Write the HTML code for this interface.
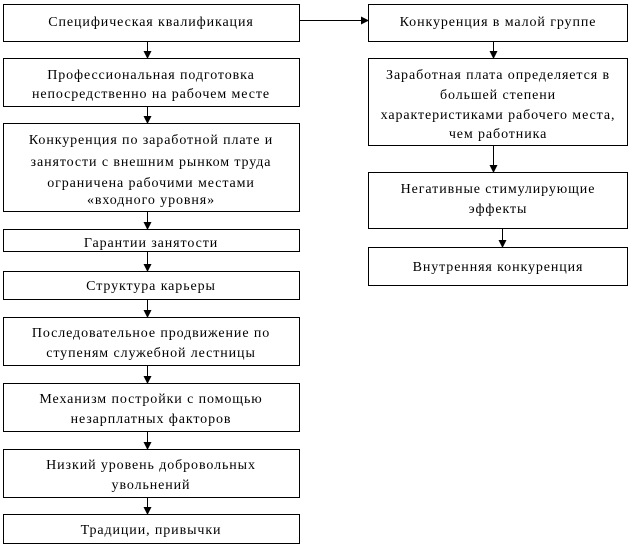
<!DOCTYPE html>
<html><head><meta charset="utf-8"><style>
html,body{margin:0;padding:0;background:#fff;}
svg{display:block;}
text{font-family:"Liberation Serif",serif;font-size:14px;letter-spacing:0.9px;fill:#000;text-anchor:middle;}
rect{fill:#fff;stroke:#000;stroke-width:1;}
line{stroke:#000;stroke-width:1;}
</style></head><body>
<svg width="630" height="547" xmlns="http://www.w3.org/2000/svg">
<defs><marker id="a" markerWidth="8" markerHeight="8" refX="7" refY="4" orient="auto" markerUnits="userSpaceOnUse"><path d="M0,0 L8,4 L0,8 z" fill="#000"/></marker></defs>
<rect x="3.5" y="4.5" width="296" height="37"/>
<text x="151" y="26">Специфическая квалификация</text>
<rect x="3.5" y="58.5" width="296" height="48"/>
<text x="151" y="79">Профессиональная подготовка</text>
<text x="151" y="98">непосредственно на рабочем месте</text>
<rect x="3.5" y="123.5" width="296" height="88"/>
<text x="151" y="144">Конкуренция по заработной плате и</text>
<text x="151" y="166">занятости с внешним рынком труда</text>
<text x="151" y="187">ограничена рабочими местами</text>
<text x="151" y="204">«входного уровня»</text>
<rect x="3.5" y="229.5" width="296" height="22"/>
<text x="151" y="247">Гарантии занятости</text>
<rect x="3.5" y="271.5" width="296" height="28"/>
<text x="151" y="290">Структура карьеры</text>
<rect x="3.5" y="317.5" width="296" height="48"/>
<text x="151" y="337">Последовательное продвижение по</text>
<text x="151" y="357">ступеням служебной лестницы</text>
<rect x="3.5" y="383.5" width="296" height="48"/>
<text x="151" y="403">Механизм постройки с помощью</text>
<text x="151" y="423">незарплатных факторов</text>
<rect x="3.5" y="449.5" width="296" height="48"/>
<text x="151" y="469">Низкий уровень добровольных</text>
<text x="151" y="489">увольнений</text>
<rect x="3.5" y="514.5" width="296" height="29"/>
<text x="151" y="534">Традиции, привычки</text>
<g>
<line x1="147.5" y1="42" x2="147.5" y2="58" marker-end="url(#a)"/>
<line x1="147.5" y1="107" x2="147.5" y2="123" marker-end="url(#a)"/>
<line x1="147.5" y1="212" x2="147.5" y2="229" marker-end="url(#a)"/>
<line x1="147.5" y1="252" x2="147.5" y2="271" marker-end="url(#a)"/>
<line x1="147.5" y1="300" x2="147.5" y2="317" marker-end="url(#a)"/>
<line x1="147.5" y1="366" x2="147.5" y2="383" marker-end="url(#a)"/>
<line x1="147.5" y1="432" x2="147.5" y2="449" marker-end="url(#a)"/>
<line x1="147.5" y1="498" x2="147.5" y2="514" marker-end="url(#a)"/>
</g>
<line x1="300" y1="20.5" x2="368" y2="20.5" marker-end="url(#a)"/>
<rect x="368.5" y="4.5" width="259" height="37"/>
<text x="498" y="26">Конкуренция в малой группе</text>
<rect x="368.5" y="58.5" width="259" height="87"/>
<text x="498" y="79">Заработная плата определяется в</text>
<text x="498" y="99">большей степени</text>
<text x="498" y="119">характеристиками рабочего места,</text>
<text x="498" y="138">чем работника</text>
<rect x="368.5" y="172.5" width="259" height="56"/>
<text x="498" y="193">Негативные стимулирующие</text>
<text x="498" y="213">эффекты</text>
<rect x="368.5" y="247.5" width="259" height="38"/>
<text x="498" y="271">Внутренняя конкуренция</text>
<line x1="493.5" y1="42" x2="493.5" y2="58" marker-end="url(#a)"/>
<line x1="493.5" y1="146" x2="493.5" y2="172" marker-end="url(#a)"/>
<line x1="502.5" y1="229" x2="502.5" y2="247" marker-end="url(#a)"/>
</svg>
</body></html>
